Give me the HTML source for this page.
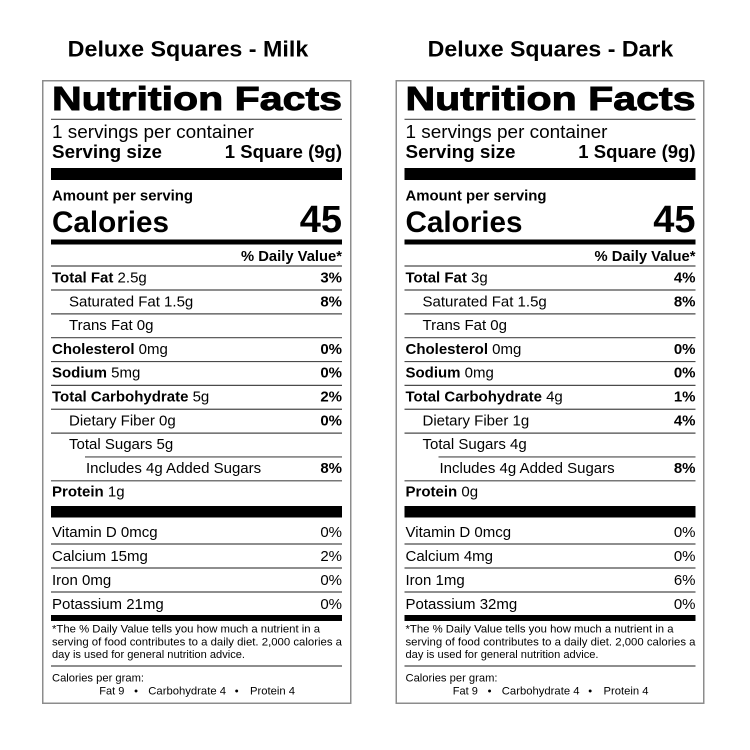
<!DOCTYPE html>
<html>
<head>
<meta charset="utf-8">
<style>
html,body{margin:0;padding:0;background:#fff;}
svg{display:block;}
text{font-family:"Liberation Sans",Arial,sans-serif;fill:#000;}
.b{font-weight:bold;}
.r{font-size:15px;}
.pc{font-size:15px;font-weight:bold;text-anchor:end;}
.vp{font-size:15px;text-anchor:end;}
.fn{font-size:11px;}
.ln{stroke:#4a4a4a;stroke-width:1.2;}
</style>
</head>
<body>
<svg width="750" height="750" viewBox="0 0 750 750" xmlns="http://www.w3.org/2000/svg">
<rect width="750" height="750" fill="#fff"/>

<!-- Titles -->
<text class="b" x="67.7" y="56.5" font-size="22" textLength="240.6" lengthAdjust="spacingAndGlyphs">Deluxe Squares - Milk</text>
<text class="b" x="427.7" y="56.5" font-size="22" textLength="245.6" lengthAdjust="spacingAndGlyphs">Deluxe Squares - Dark</text>

<!-- LEFT LABEL -->
<g>
<rect x="42.75" y="80.75" width="308" height="622.5" fill="none" stroke="#8c8c8c" stroke-width="1.5"/>
<text class="b" x="52" y="110" font-size="33" textLength="290" lengthAdjust="spacingAndGlyphs" stroke="#000" stroke-width="0.9">Nutrition Facts</text>
<line class="ln" x1="51" y1="119.3" x2="342" y2="119.3" stroke="#777"/>
<text x="52" y="138" font-size="18.5" textLength="202" lengthAdjust="spacingAndGlyphs">1 servings per container</text>
<text class="b" x="52" y="158" font-size="18.5" textLength="110" lengthAdjust="spacingAndGlyphs">Serving size</text>
<text class="b" x="342" y="158" font-size="18.5" text-anchor="end">1 Square (9g)</text>
<rect x="51" y="168" width="291" height="12" fill="#000"/>
<text class="b" x="52" y="200.5" font-size="15" textLength="141" lengthAdjust="spacingAndGlyphs">Amount per serving</text>
<text class="b" x="52" y="232" font-size="30" textLength="117" lengthAdjust="spacingAndGlyphs">Calories</text>
<text class="b" x="342" y="232" font-size="38" text-anchor="end">45</text>
<rect x="51" y="239.5" width="291" height="5" fill="#000"/>
<text class="b" x="241" y="261" font-size="14.5" textLength="101" lengthAdjust="spacingAndGlyphs">% Daily Value*</text>
<line class="ln" x1="51" y1="266" x2="342" y2="266"/>

<text class="r" x="52" y="282.5"><tspan class="b">Total Fat</tspan> 2.5g</text><text class="pc" x="342" y="282.5">3%</text>
<line class="ln" x1="51" y1="290" x2="342" y2="290"/>
<text class="r" x="69" y="306.3">Saturated Fat 1.5g</text><text class="pc" x="342" y="306.3">8%</text>
<line class="ln" x1="51" y1="313.85" x2="342" y2="313.85"/>
<text class="r" x="69" y="330.1">Trans Fat 0g</text>
<line class="ln" x1="51" y1="337.7" x2="342" y2="337.7"/>
<text class="r" x="52" y="353.9"><tspan class="b">Cholesterol</tspan> 0mg</text><text class="pc" x="342" y="353.9">0%</text>
<line class="ln" x1="51" y1="361.55" x2="342" y2="361.55"/>
<text class="r" x="52" y="377.7"><tspan class="b">Sodium</tspan> 5mg</text><text class="pc" x="342" y="377.7">0%</text>
<line class="ln" x1="51" y1="385.4" x2="342" y2="385.4"/>
<text class="r" x="52" y="401.5"><tspan class="b">Total Carbohydrate</tspan> 5g</text><text class="pc" x="342" y="401.5">2%</text>
<line class="ln" x1="51" y1="409.25" x2="342" y2="409.25"/>
<text class="r" x="69" y="425.3">Dietary Fiber 0g</text><text class="pc" x="342" y="425.3">0%</text>
<line class="ln" x1="51" y1="433.1" x2="342" y2="433.1"/>
<text class="r" x="69" y="449.1">Total Sugars 5g</text>
<line class="ln" x1="85" y1="456.95" x2="342" y2="456.95"/>
<text class="r" x="86" y="472.9">Includes 4g Added Sugars</text><text class="pc" x="342" y="472.9">8%</text>
<line class="ln" x1="51" y1="480.8" x2="342" y2="480.8"/>
<text class="r" x="52" y="496.7"><tspan class="b">Protein</tspan> 1g</text>
<rect x="51" y="506" width="291" height="11.5" fill="#000"/>

<text class="r" x="52" y="537">Vitamin D 0mcg</text><text class="vp" x="342" y="537">0%</text>
<line class="ln" x1="51" y1="544" x2="342" y2="544"/>
<text class="r" x="52" y="561">Calcium 15mg</text><text class="vp" x="342" y="561">2%</text>
<line class="ln" x1="51" y1="568" x2="342" y2="568"/>
<text class="r" x="52" y="585">Iron 0mg</text><text class="vp" x="342" y="585">0%</text>
<line class="ln" x1="51" y1="592" x2="342" y2="592"/>
<text class="r" x="52" y="609">Potassium 21mg</text><text class="vp" x="342" y="609">0%</text>
<rect x="51" y="615" width="291" height="6" fill="#000"/>

<text class="fn" x="52" y="632.5" textLength="268" lengthAdjust="spacingAndGlyphs">*The % Daily Value tells you how much a nutrient in a</text>
<text class="fn" x="52" y="645.3" textLength="290" lengthAdjust="spacingAndGlyphs">serving of food contributes to a daily diet. 2,000 calories a</text>
<text class="fn" x="52" y="658" textLength="193" lengthAdjust="spacingAndGlyphs">day is used for general nutrition advice.</text>
<line class="ln" x1="51" y1="666" x2="342" y2="666"/>
<text class="fn" x="52" y="681.5" textLength="92" lengthAdjust="spacingAndGlyphs">Calories per gram:</text>
<text class="fn" x="99.3" y="694.5">Fat 9</text>
<text class="fn" x="136" y="694.5" text-anchor="middle">•</text>
<text class="fn" x="148.3" y="694.5" textLength="77.7" lengthAdjust="spacingAndGlyphs">Carbohydrate 4</text>
<text class="fn" x="236.7" y="694.5" text-anchor="middle">•</text>
<text class="fn" x="250" y="694.5" textLength="45" lengthAdjust="spacingAndGlyphs">Protein 4</text>
</g>

<!-- RIGHT LABEL -->
<g transform="translate(353.5,0)">
<rect x="42.75" y="80.75" width="307.5" height="622.5" fill="none" stroke="#8c8c8c" stroke-width="1.5"/>
<text class="b" x="52" y="110" font-size="33" textLength="290" lengthAdjust="spacingAndGlyphs" stroke="#000" stroke-width="0.9">Nutrition Facts</text>
<line class="ln" x1="51" y1="119.3" x2="342" y2="119.3" stroke="#777"/>
<text x="52" y="138" font-size="18.5" textLength="202" lengthAdjust="spacingAndGlyphs">1 servings per container</text>
<text class="b" x="52" y="158" font-size="18.5" textLength="110" lengthAdjust="spacingAndGlyphs">Serving size</text>
<text class="b" x="342" y="158" font-size="18.5" text-anchor="end">1 Square (9g)</text>
<rect x="51" y="168" width="291" height="12" fill="#000"/>
<text class="b" x="52" y="200.5" font-size="15" textLength="141" lengthAdjust="spacingAndGlyphs">Amount per serving</text>
<text class="b" x="52" y="232" font-size="30" textLength="117" lengthAdjust="spacingAndGlyphs">Calories</text>
<text class="b" x="342" y="232" font-size="38" text-anchor="end">45</text>
<rect x="51" y="239.5" width="291" height="5" fill="#000"/>
<text class="b" x="241" y="261" font-size="14.5" textLength="101" lengthAdjust="spacingAndGlyphs">% Daily Value*</text>
<line class="ln" x1="51" y1="266" x2="342" y2="266"/>

<text class="r" x="52" y="282.5"><tspan class="b">Total Fat</tspan> 3g</text><text class="pc" x="342" y="282.5">4%</text>
<line class="ln" x1="51" y1="290" x2="342" y2="290"/>
<text class="r" x="69" y="306.3">Saturated Fat 1.5g</text><text class="pc" x="342" y="306.3">8%</text>
<line class="ln" x1="51" y1="313.85" x2="342" y2="313.85"/>
<text class="r" x="69" y="330.1">Trans Fat 0g</text>
<line class="ln" x1="51" y1="337.7" x2="342" y2="337.7"/>
<text class="r" x="52" y="353.9"><tspan class="b">Cholesterol</tspan> 0mg</text><text class="pc" x="342" y="353.9">0%</text>
<line class="ln" x1="51" y1="361.55" x2="342" y2="361.55"/>
<text class="r" x="52" y="377.7"><tspan class="b">Sodium</tspan> 0mg</text><text class="pc" x="342" y="377.7">0%</text>
<line class="ln" x1="51" y1="385.4" x2="342" y2="385.4"/>
<text class="r" x="52" y="401.5"><tspan class="b">Total Carbohydrate</tspan> 4g</text><text class="pc" x="342" y="401.5">1%</text>
<line class="ln" x1="51" y1="409.25" x2="342" y2="409.25"/>
<text class="r" x="69" y="425.3">Dietary Fiber 1g</text><text class="pc" x="342" y="425.3">4%</text>
<line class="ln" x1="51" y1="433.1" x2="342" y2="433.1"/>
<text class="r" x="69" y="449.1">Total Sugars 4g</text>
<line class="ln" x1="85" y1="456.95" x2="342" y2="456.95"/>
<text class="r" x="86" y="472.9">Includes 4g Added Sugars</text><text class="pc" x="342" y="472.9">8%</text>
<line class="ln" x1="51" y1="480.8" x2="342" y2="480.8"/>
<text class="r" x="52" y="496.7"><tspan class="b">Protein</tspan> 0g</text>
<rect x="51" y="506" width="291" height="11.5" fill="#000"/>

<text class="r" x="52" y="537">Vitamin D 0mcg</text><text class="vp" x="342" y="537">0%</text>
<line class="ln" x1="51" y1="544" x2="342" y2="544"/>
<text class="r" x="52" y="561">Calcium 4mg</text><text class="vp" x="342" y="561">0%</text>
<line class="ln" x1="51" y1="568" x2="342" y2="568"/>
<text class="r" x="52" y="585">Iron 1mg</text><text class="vp" x="342" y="585">6%</text>
<line class="ln" x1="51" y1="592" x2="342" y2="592"/>
<text class="r" x="52" y="609">Potassium 32mg</text><text class="vp" x="342" y="609">0%</text>
<rect x="51" y="615" width="291" height="6" fill="#000"/>

<text class="fn" x="52" y="632.5" textLength="268" lengthAdjust="spacingAndGlyphs">*The % Daily Value tells you how much a nutrient in a</text>
<text class="fn" x="52" y="645.3" textLength="290" lengthAdjust="spacingAndGlyphs">serving of food contributes to a daily diet. 2,000 calories a</text>
<text class="fn" x="52" y="658" textLength="193" lengthAdjust="spacingAndGlyphs">day is used for general nutrition advice.</text>
<line class="ln" x1="51" y1="666" x2="342" y2="666"/>
<text class="fn" x="52" y="681.5" textLength="92" lengthAdjust="spacingAndGlyphs">Calories per gram:</text>
<text class="fn" x="99.3" y="694.5">Fat 9</text>
<text class="fn" x="136" y="694.5" text-anchor="middle">•</text>
<text class="fn" x="148.3" y="694.5" textLength="77.7" lengthAdjust="spacingAndGlyphs">Carbohydrate 4</text>
<text class="fn" x="236.7" y="694.5" text-anchor="middle">•</text>
<text class="fn" x="250" y="694.5" textLength="45" lengthAdjust="spacingAndGlyphs">Protein 4</text>
</g>
</svg>
</body>
</html>
